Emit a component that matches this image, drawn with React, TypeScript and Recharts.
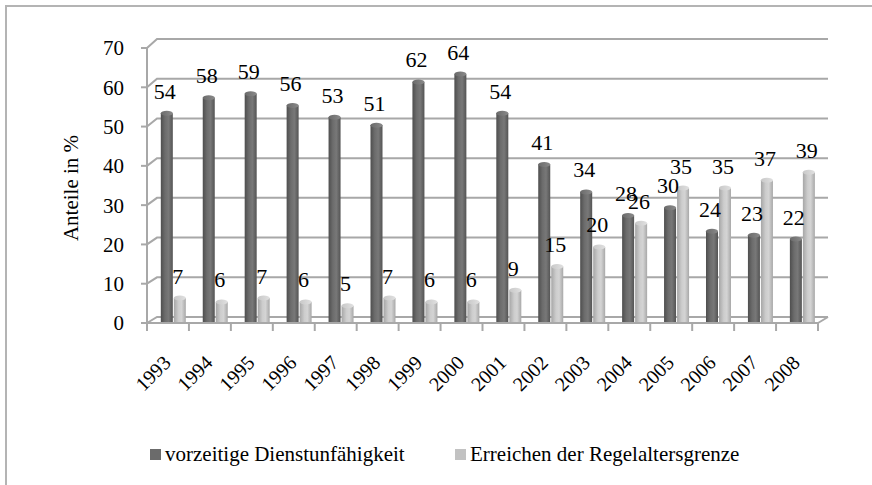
import { BarChart, Bar, XAxis, YAxis, CartesianGrid, LabelList } from 'recharts';

const years = [
  '1993', '1994', '1995', '1996', '1997', '1998', '1999', '2000',
  '2001', '2002', '2003', '2004', '2005', '2006', '2007', '2008',
];
const dienstunfaehigkeit = [54, 58, 59, 56, 53, 51, 62, 64, 54, 41, 34, 28, 30, 24, 23, 22];
const regelaltersgrenze = [7, 6, 7, 6, 5, 7, 6, 6, 9, 15, 20, 26, 35, 35, 37, 39];
const yTicks = [0, 10, 20, 30, 40, 50, 60, 70];

const seriesNames = ['vorzeitige Dienstunfähigkeit', 'Erreichen der Regelaltersgrenze'];

const data = years.map((year, i) => ({
  year,
  early: dienstunfaehigkeit[i],
  regular: regelaltersgrenze[i],
}));

const FONT = 'Liberation Serif, Tinos, Times New Roman, DejaVu Serif, serif';
const GRID = '#a8a8a8';
const W = 872;
const H = 485;
const PLOT_LEFT = 147;
const PLOT_RIGHT = 818;
const PLOT_TOP = 48;
const PLOT_BOTTOM = 323;
const BAND = (PLOT_RIGHT - PLOT_LEFT) / years.length;
// fake 3d: the back wall sits up and to the right of the front axes
const DEPTH_X = 10;
const BAR_SHIFT = 5;

function backDy(y: number) {
  return -6 - (3 * (PLOT_BOTTOM - y)) / (PLOT_BOTTOM - PLOT_TOP);
}

function GridLine(p: any) {
  const dy = backDy(p.y1);
  const isFloor = Math.abs(p.y1 - PLOT_BOTTOM) < 1;
  return (
    <g key={p.key}>
      <polyline
        points={`${p.x1},${p.y1} ${p.x1 + DEPTH_X},${p.y1 + dy} ${p.x2 + DEPTH_X},${p.y1 + dy}`}
        stroke={GRID}
        strokeWidth={2}
        fill="none"
      />
      {isFloor && (
        <line x1={p.x2} y1={p.y1} x2={p.x2 + DEPTH_X} y2={p.y1 + dy} stroke={GRID} strokeWidth={2} />
      )}
    </g>
  );
}

function Cylinder(fillId: string) {
  return (props: any) => {
    const { x, y, width, height } = props;
    if (height == null || height <= 0) return <g />;
    const bx = x + BAR_SHIFT;
    const ry = 2.5;
    return (
      <g>
        <rect x={bx} y={y + ry} width={width} height={height - ry} fill={`url(#${fillId})`} />
        <ellipse cx={bx + width / 2} cy={y + ry} rx={width / 2} ry={ry} fill={`url(#${fillId}-top)`} />
      </g>
    );
  };
}

function ValueLabel(props: any) {
  const { x, y, width, value } = props;
  return (
    <text
      x={x + width / 2 + BAR_SHIFT - 2}
      y={y - 12}
      textAnchor="middle"
      fontFamily={FONT}
      fontSize={22}
      fill="#000"
    >
      {value}
    </text>
  );
}

function YearTick(props: any) {
  const { x, payload, index } = props;
  const left = x - BAND / 2;
  return (
    <g>
      <line x1={left} y1={PLOT_BOTTOM} x2={left} y2={PLOT_BOTTOM + 8} stroke={GRID} strokeWidth={2} />
      {index === years.length - 1 && (
        <line x1={x + BAND / 2} y1={PLOT_BOTTOM} x2={x + BAND / 2} y2={PLOT_BOTTOM + 8} stroke={GRID} strokeWidth={2} />
      )}
      <text
        x={x + 4}
        y={PLOT_BOTTOM + 41}
        transform={`rotate(-45 ${x + 4} ${PLOT_BOTTOM + 41})`}
        textAnchor="end"
        fontFamily={FONT}
        fontSize={20}
        fill="#000"
      >
        {payload.value}
      </text>
    </g>
  );
}

function YTitle() {
  return (
    <text
      x={78}
      y={188}
      transform="rotate(-90 78 188)"
      textAnchor="middle"
      fontFamily={FONT}
      fontSize={21}
      fill="#000"
    >
      Anteile in %
    </text>
  );
}

export default function App() {
  return (
    <div
      style={{
        position: 'absolute',
        left: 0,
        top: 0,
        width: W,
        height: H,
        overflow: 'hidden',
        background: '#fff',
        fontFamily: FONT,
      }}
    >
      <div
        style={{
          position: 'absolute',
          left: 5,
          top: 5,
          width: W + 20,
          height: H + 20,
          border: '2px solid #b4b4b4',
        }}
      />
      <div style={{ position: 'absolute', left: 0, top: 0 }}>
        <BarChart
          width={W}
          height={H}
          data={data}
          margin={{ top: PLOT_TOP, right: W - PLOT_RIGHT, bottom: H - PLOT_BOTTOM - 60, left: PLOT_LEFT - 60 }}
          barCategoryGap="21%"
          barGap={1}
        >
          <defs>
            <linearGradient id="dark" x1="0" y1="0" x2="1" y2="0">
              <stop offset="0%" stopColor="#4e4e4e" />
              <stop offset="35%" stopColor="#6c6c6c" />
              <stop offset="65%" stopColor="#787878" />
              <stop offset="100%" stopColor="#545454" />
            </linearGradient>
            <linearGradient id="dark-top" x1="0" y1="0" x2="1" y2="0">
              <stop offset="0%" stopColor="#6a6a6a" />
              <stop offset="100%" stopColor="#8a8a8a" />
            </linearGradient>
            <linearGradient id="light" x1="0" y1="0" x2="1" y2="0">
              <stop offset="0%" stopColor="#a6a6a6" />
              <stop offset="40%" stopColor="#cdcdcd" />
              <stop offset="65%" stopColor="#d4d4d4" />
              <stop offset="100%" stopColor="#a8a8a8" />
            </linearGradient>
            <linearGradient id="light-top" x1="0" y1="0" x2="1" y2="0">
              <stop offset="0%" stopColor="#c8c8c8" />
              <stop offset="100%" stopColor="#e0e0e0" />
            </linearGradient>
          </defs>
          <CartesianGrid vertical={false} horizontal={GridLine} />
          <XAxis
            dataKey="year"
            height={60}
            interval={0}
            tickLine={false}
            axisLine={{ stroke: GRID, strokeWidth: 2 }}
            tick={YearTick}
          />
          <YAxis
            width={60}
            domain={[0, 70]}
            ticks={yTicks}
            interval={0}
            tickSize={6}
            tickMargin={17}
            axisLine={{ stroke: GRID, strokeWidth: 2 }}
            tickLine={{ stroke: GRID, strokeWidth: 2 }}
            tick={{ fontSize: 21, fill: '#000', fontFamily: FONT }}
            label={<YTitle />}
          />
          <Bar dataKey="early" name={seriesNames[0]} shape={Cylinder('dark')} isAnimationActive={false}>
            <LabelList dataKey="early" content={ValueLabel} />
          </Bar>
          <Bar dataKey="regular" name={seriesNames[1]} shape={Cylinder('light')} isAnimationActive={false}>
            <LabelList dataKey="regular" content={ValueLabel} />
          </Bar>
        </BarChart>
      </div>
      <div style={{ position: 'absolute', left: 150, top: 449, width: 11, height: 11, background: '#6b6b6b' }} />
      <div style={{ position: 'absolute', left: 165, top: 443, fontSize: 21, lineHeight: '23px', whiteSpace: 'nowrap' }}>
        {seriesNames[0]}
      </div>
      <div style={{ position: 'absolute', left: 455, top: 449, width: 11, height: 11, background: '#c2c2c2' }} />
      <div style={{ position: 'absolute', left: 470, top: 443, fontSize: 21, lineHeight: '23px', whiteSpace: 'nowrap' }}>
        {seriesNames[1]}
      </div>
    </div>
  );
}
